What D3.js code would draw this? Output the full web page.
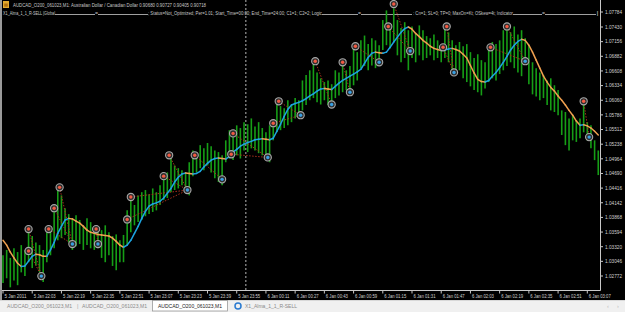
<!DOCTYPE html>
<html><head><meta charset="utf-8">
<script src="https://cdn.jsdelivr.net/npm/d3@7"></script>
<style>html,body{margin:0;padding:0;background:#000;overflow:hidden}svg{display:block}</style>
</head><body><svg id="c" width="625" height="312"></svg>
<script>
// ---------- data ----------
const barStart = "2011-01-05 21:47";
const barMinutes = 2;
const highs = [
1.0316,1.0326,1.0311,1.0329,1.0322,1.0335,1.0326,1.0359,1.0352,1.0340,
1.0335,1.0326,1.0359,1.0370,1.0397,1.0438,1.0428,1.0404,1.0393,1.0385,
1.0391,1.0382,1.0372,1.0385,1.0378,1.0370,1.0367,1.0363,1.0372,1.0359,
1.0352,1.0355,1.0344,1.0354,1.0400,1.0419,1.0410,1.0428,1.0434,1.0438,
1.0430,1.0441,1.0434,1.0447,1.0460,1.0471,1.0498,1.0484,1.0479,1.0475,
1.0471,1.0490,1.0512,1.0499,1.0522,1.0516,1.0526,1.0520,1.0512,1.0509,
1.0503,1.0531,1.0550,1.0539,1.0559,1.0554,1.0565,1.0561,1.0572,1.0557,
1.0565,1.0554,1.0546,1.0559,1.0561,1.0600,1.0595,1.0591,1.0606,1.0598,
1.0610,1.0606,1.0643,1.0653,1.0662,1.0673,1.0658,1.0647,1.0640,1.0643,
1.0636,1.0662,1.0658,1.0673,1.0662,1.0670,1.0703,1.0696,1.0718,1.0727,
1.0711,1.0722,1.0718,1.0709,1.0756,1.0774,1.0741,1.0778,1.0756,1.0741,
1.0752,1.0737,1.0744,1.0731,1.0746,1.0737,1.0726,1.0722,1.0729,1.0718,
1.0703,1.0741,1.0733,1.0718,1.0709,1.0715,1.0707,1.0711,1.0696,1.0685,
1.0692,1.0681,1.0677,1.0700,1.0715,1.0711,1.0718,1.0737,1.0741,1.0733,
1.0744,1.0729,1.0737,1.0722,1.0709,1.0677,1.0666,1.0658,1.0653,1.0643,
1.0647,1.0634,1.0625,1.0587,1.0584,1.0572,1.0578,1.0569,1.0572,1.0600,
1.0565,1.0559,1.0531,1.0512];
const lows = [
1.0264,1.0273,1.0256,1.0269,1.0260,1.0284,1.0277,1.0303,1.0292,1.0297,
1.0284,1.0266,1.0303,1.0316,1.0329,1.0344,1.0348,1.0354,1.0340,1.0326,
1.0333,1.0337,1.0326,1.0335,1.0329,1.0326,1.0329,1.0311,1.0303,1.0316,
1.0296,1.0288,1.0303,1.0303,1.0335,1.0359,1.0372,1.0378,1.0382,1.0389,
1.0393,1.0397,1.0400,1.0410,1.0419,1.0423,1.0434,1.0438,1.0441,1.0447,
1.0434,1.0428,1.0464,1.0471,1.0479,1.0475,1.0484,1.0471,1.0460,1.0453,
1.0447,1.0490,1.0497,1.0494,1.0503,1.0497,1.0512,1.0509,1.0516,1.0512,
1.0507,1.0503,1.0494,1.0490,1.0531,1.0546,1.0550,1.0554,1.0559,1.0565,
1.0572,1.0574,1.0587,1.0597,1.0606,1.0610,1.0602,1.0598,1.0606,1.0597,
1.0595,1.0610,1.0615,1.0621,1.0625,1.0617,1.0634,1.0643,1.0666,1.0670,
1.0662,1.0671,1.0666,1.0673,1.0700,1.0709,1.0703,1.0715,1.0690,1.0677,
1.0685,1.0662,1.0685,1.0677,1.0690,1.0681,1.0685,1.0690,1.0681,1.0685,
1.0677,1.0685,1.0677,1.0662,1.0655,1.0662,1.0647,1.0640,1.0632,1.0625,
1.0621,1.0615,1.0628,1.0640,1.0647,1.0643,1.0655,1.0662,1.0670,1.0677,
1.0666,1.0658,1.0651,1.0673,1.0636,1.0617,1.0613,1.0606,1.0610,1.0597,
1.0587,1.0584,1.0578,1.0541,1.0522,1.0512,1.0531,1.0528,1.0535,1.0546,
1.0531,1.0516,1.0494,1.0466];
const alma = [
1.0344,1.0335,1.0322,1.0311,1.0301,1.0295,1.0296,1.0305,1.0314,1.0318,
1.0317,1.0314,1.0314,1.0326,1.0340,1.0357,1.0370,1.0382,1.0385,1.0384,
1.0380,1.0376,1.0370,1.0363,1.0359,1.0357,1.0355,1.0354,1.0353,1.0352,
1.0348,1.0342,1.0335,1.0331,1.0335,1.0344,1.0357,1.0370,1.0385,1.0398,
1.0408,1.0412,1.0414,1.0417,1.0423,1.0432,1.0441,1.0453,1.0462,1.0468,
1.0470,1.0469,1.0468,1.0469,1.0473,1.0481,1.0488,1.0494,1.0497,1.0498,
1.0497,1.0496,1.0501,1.0509,1.0514,1.0520,1.0524,1.0527,1.0529,1.0532,
1.0533,1.0534,1.0533,1.0532,1.0535,1.0548,1.0561,1.0576,1.0589,1.0597,
1.0600,1.0602,1.0605,1.0609,1.0614,1.0618,1.0623,1.0627,1.0628,1.0627,
1.0626,1.0632,1.0638,1.0643,1.0647,1.0651,1.0655,1.0659,1.0664,1.0675,
1.0686,1.0694,1.0696,1.0695,1.0694,1.0696,1.0705,1.0715,1.0724,1.0733,
1.0740,1.0743,1.0739,1.0731,1.0725,1.0718,1.0713,1.0707,1.0703,1.0701,
1.0699,1.0700,1.0702,1.0703,1.0701,1.0698,1.0692,1.0685,1.0671,1.0657,
1.0645,1.0641,1.0640,1.0643,1.0651,1.0658,1.0667,1.0677,1.0688,1.0700,
1.0709,1.0716,1.0720,1.0718,1.0709,1.0696,1.0681,1.0666,1.0651,1.0640,
1.0630,1.0623,1.0614,1.0606,1.0597,1.0587,1.0578,1.0567,1.0559,1.0560,
1.0558,1.0554,1.0548,1.0541];
const sellTimes = ["2011-01-05 22:01","2011-01-05 22:01","2011-01-05 22:12","2011-01-05 22:15","2011-01-05 22:18","2011-01-05 22:38","2011-01-05 22:55","2011-01-05 22:57","2011-01-05 23:15","2011-01-05 23:18","2011-01-05 23:32","2011-01-05 23:52","2011-01-05 23:53","2011-01-06 00:15","2011-01-06 00:18","2011-01-06 00:38","2011-01-06 00:53","2011-01-06 01:00","2011-01-06 01:18","2011-01-06 01:21","2011-01-06 01:48","2011-01-06 01:50","2011-01-06 02:14","2011-01-06 02:23","2011-01-06 03:05"];
const sellPrices = [1.0324,1.0365,1.0365,1.0404,1.0443,1.0365,1.0383,1.0425,1.0464,1.0503,1.0503,1.0505,1.0544,1.0563,1.0604,1.0679,1.0677,1.0707,1.0744,1.0786,1.0705,1.0744,1.0705,1.0744,1.0604];
const buyTimes = ["2011-01-05 22:08","2011-01-05 22:25","2011-01-05 22:39","2011-01-05 23:28","2011-01-05 23:47","2011-01-06 00:12","2011-01-06 00:30","2011-01-06 00:47","2011-01-06 00:57","2011-01-06 01:13","2011-01-06 01:30","2011-01-06 01:54","2011-01-06 02:33","2011-01-06 03:08"];
const buyPrices = [1.0277,1.0337,1.0337,1.0438,1.0458,1.0499,1.0578,1.0598,1.0621,1.0677,1.0698,1.0658,1.0679,1.0537];
const tradeCloseIndex = [0,0,1,1,1,2,3,3,3,3,4,5,5,6,6,7,8,9,10,10,11,11,12,12,13];
const priceTicks = [1.02772,1.03046,1.03320,1.03594,1.03868,1.04142,1.04416,1.04690,1.04964,1.05238,1.05512,1.05786,1.06060,1.06334,1.06608,1.06882,1.07156,1.07430,1.07784];
const timeTickTimes = ["2011-01-05 21:47","2011-01-05 22:03","2011-01-05 22:19","2011-01-05 22:35","2011-01-05 22:51","2011-01-05 23:07","2011-01-05 23:23","2011-01-05 23:39","2011-01-05 23:55","2011-01-06 00:11","2011-01-06 00:27","2011-01-06 00:43","2011-01-06 00:59","2011-01-06 01:15","2011-01-06 01:31","2011-01-06 01:47","2011-01-06 02:03","2011-01-06 02:19","2011-01-06 02:35","2011-01-06 02:51","2011-01-06 03:07"];
const timeTickLabels = ["5 Jan 2011","5 Jan 22:03","5 Jan 22:19","5 Jan 22:35","5 Jan 22:51","5 Jan 23:07","5 Jan 23:23","5 Jan 23:39","5 Jan 23:55","6 Jan 00:11","6 Jan 00:27","6 Jan 00:43","6 Jan 00:59","6 Jan 01:15","6 Jan 01:31","6 Jan 01:47","6 Jan 02:03","6 Jan 02:19","6 Jan 02:35","6 Jan 02:51","6 Jan 03:07"];
const periodSeparators = ["2011-01-06 00:00"];
const headerLine1 = "AUDCAD_O200_061023,M1:  Australian Dollar / Canadian Dollar  0.90680 0.90727 0.90405 0.90718";
const headerParts = ["X1_Alma_1_1_R-SELL |Global", "=", "; Status=Not_Optimized; Per=1.01; Start_Time=00:00; End_Time=24:00; C1=1; C2=2; Logic", "=", ": Cn=1; SL=0; TP=0; MaxOn=Kt; OSkew=4t; Indicator", "=", "|"];
const tabNames = ["AUDCAD_O200_061023,M1","AUDCAD_O200_061023,M1","AUDCAD_O200_061023,M1","X1_Alma_1_1_R-SELL"];

// ---------- drawing ----------
const parse = d3.timeParse("%Y-%m-%d %H:%M");
const t0 = parse(barStart);
const svg = d3.select("#c");
const FONT = "Liberation Sans, Arial, sans-serif";

const x = d3.scaleTime().domain([t0, d3.timeMinute.offset(t0, 320)]).range([3, 587.3]);
const y = d3.scaleLinear().domain([1.02772, 1.07430]).range([276, 27]);
const barTime = i => d3.timeMinute.offset(t0, i * barMinutes);

svg.append("rect").attr("width",625).attr("height",312).attr("fill","#000");
svg.append("rect").attr("x",0).attr("y",0).attr("width",2).attr("height",300).attr("fill","#9a9a9a");

// header
const hdr = svg.append("g").attr("font-family",FONT).attr("font-size",5).attr("fill","#c8c8c8");
hdr.append("rect").attr("x",3).attr("y",1).attr("width",6).attr("height",7).attr("fill","#e2a92e");
hdr.append("rect").attr("x",4.2).attr("y",3.5).attr("width",3.6).attr("height",3.2).attr("fill","#b07010");
hdr.append("text").attr("x",13).attr("y",6.5).attr("textLength",193).attr("lengthAdjust","spacingAndGlyphs").text(headerLine1);
const segs = [[3,55],[95,98],[148,322],[358,361],[413,513],[542,545],[596.5,598.5]];
const lines2 = [[55,95],[98,148],[322,358],[361,412],[513,542],[545,596]];
headerParts.forEach((p,i)=>{
  hdr.append("text").attr("x",segs[i][0]).attr("y",14.5)
    .attr("textLength",segs[i][1]-segs[i][0]).attr("lengthAdjust","spacingAndGlyphs").text(p);
});
lines2.forEach(l=>hdr.append("line").attr("x1",l[0]).attr("x2",l[1]).attr("y1",14.5).attr("y2",14.5).attr("stroke","#c8c8c8").attr("stroke-width",0.8));

// period separator
svg.selectAll(".sep").data(periodSeparators).enter().append("line")
  .attr("x1",d=>x(parse(d))).attr("x2",d=>x(parse(d))).attr("y1",0).attr("y2",290)
  .attr("stroke","#b8b8b8").attr("stroke-dasharray","2,2").attr("stroke-width",1);

// bars
svg.append("g").selectAll("line").data(highs).enter().append("line")
  .attr("x1",(d,i)=>x(barTime(i))).attr("x2",(d,i)=>x(barTime(i)))
  .attr("y1",d=>y(d)).attr("y2",(d,i)=>y(lows[i]))
  .attr("stroke","#169e16").attr("stroke-width",1.6);

// trade connecting lines
svg.append("g").selectAll("line").data(sellTimes).enter().append("line")
  .attr("x1",d=>x(parse(d))).attr("y1",(d,i)=>y(sellPrices[i]))
  .attr("x2",(d,i)=>x(parse(buyTimes[tradeCloseIndex[i]]))).attr("y2",(d,i)=>y(buyPrices[tradeCloseIndex[i]]))
  .attr("stroke","#a8301c").attr("stroke-width",1).attr("stroke-dasharray","1.5,1.5");

// ALMA coloured by direction
const ag = svg.append("g");
let prevColor = "#f0a050";
for (let i=1;i<alma.length;i++){
  let c = alma[i] > alma[i-1] ? "#1da4e0" : (alma[i] < alma[i-1] ? "#f0a050" : prevColor);
  prevColor = c;
  ag.append("line").attr("x1",x(barTime(i-1))).attr("y1",y(alma[i-1]))
    .attr("x2",x(barTime(i))).attr("y2",y(alma[i]))
    .attr("stroke",c).attr("stroke-width",1.5).attr("stroke-linecap","round");
}

// markers
function markers(times, prices, col){
  const g = svg.append("g");
  times.forEach((t,i)=>{
    const cx = x(parse(t)), cy = y(prices[i]);
    g.append("circle").attr("cx",cx).attr("cy",cy).attr("r",3.6).attr("fill","#2e2e2e").attr("stroke","#a8a8a8").attr("stroke-width",1.1);
    g.append("circle").attr("cx",cx).attr("cy",cy).attr("r",1.7).attr("fill",col);
  });
}
markers(sellTimes, sellPrices, "#f25a43");
markers(buyTimes, buyPrices, "#3a9fe2");

// axes
svg.append("line").attr("x1",600.5).attr("x2",600.5).attr("y1",0).attr("y2",290.5).attr("stroke","#c8c8c8").attr("stroke-width",1);
svg.append("line").attr("x1",2).attr("x2",600.5).attr("y1",290.5).attr("y2",290.5).attr("stroke","#c8c8c8").attr("stroke-width",1);
const pa = svg.append("g").attr("font-family",FONT).attr("font-size",5).attr("fill","#d0d0d0");
priceTicks.forEach(v=>{
  const yy = Math.max(y(v), 12);
  pa.append("line").attr("x1",600).attr("x2",603).attr("y1",yy).attr("y2",yy).attr("stroke","#c8c8c8");
  pa.append("text").attr("x",605).attr("y",yy+1.8).attr("textLength",17).attr("lengthAdjust","spacingAndGlyphs").text(d3.format(".5f")(v));
});
const ta = svg.append("g").attr("font-family",FONT).attr("font-size",5).attr("fill","#d0d0d0");
timeTickTimes.forEach((t,i)=>{
  const xx = x(parse(t));
  ta.append("line").attr("x1",xx).attr("x2",xx).attr("y1",290.5).attr("y2",293.5).attr("stroke","#c8c8c8");
  ta.append("text").attr("x",xx+1.5).attr("y",297.5).attr("textLength",22).attr("lengthAdjust","spacingAndGlyphs").text(timeTickLabels[i]);
});

// tab bar
svg.append("rect").attr("x",0).attr("y",300).attr("width",625).attr("height",12).attr("fill","#f0f0f0");
svg.append("line").attr("x1",0).attr("x2",625).attr("y1",300.5).attr("y2",300.5).attr("stroke","#d8d8d8");
svg.append("rect").attr("x",152.5).attr("y",300.5).attr("width",75).attr("height",10.5).attr("fill","#fff").attr("stroke","#9a9a9a").attr("stroke-width",0.8);
const tb = svg.append("g").attr("font-family",FONT).attr("font-size",5.5);
const tabPos = [[7,72,"#8a8a8a"],[82,147,"#8a8a8a"],[158,222,"#222"],[245,297,"#8a8a8a"]];
tabNames.forEach((n,i)=>{
  tb.append("text").attr("x",tabPos[i][0]).attr("y",308).attr("fill",tabPos[i][2])
    .attr("textLength",tabPos[i][1]-tabPos[i][0]).attr("lengthAdjust","spacingAndGlyphs").text(n);
});
tb.append("text").attr("x",77).attr("y",308).attr("fill","#aaa").text("|");
svg.append("circle").attr("cx",238).attr("cy",306).attr("r",3).attr("fill","none").attr("stroke","#2a7ad0").attr("stroke-width",1.5);
tb.append("text").attr("x",607).attr("y",308).attr("fill","#bbb").text("‹");
tb.append("text").attr("x",617).attr("y",308).attr("fill","#bbb").text("›");
</script></body></html>
